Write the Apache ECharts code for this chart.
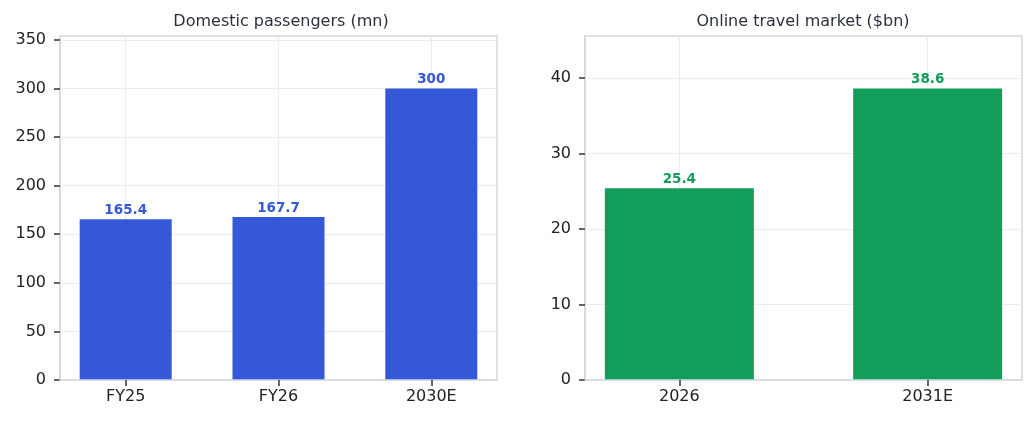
<!DOCTYPE html>
<html>
<head>
<meta charset="utf-8">
<script src="https://cdn.jsdelivr.net/npm/echarts@6/dist/echarts.min.js"></script>
<style>
  html, body { margin: 0; padding: 0; background: #fff; }
  #chart { width: 1035px; height: 423px; }
</style>
</head>
<body>
<div id="chart"></div>
<script>
  // left panel
  var paxCats = ['FY25', 'FY26', '2030E'];
  var paxValues = [165.4, 167.7, 300];
  var paxTicks = [0, 50, 100, 150, 200, 250, 300, 350];
  // right panel
  var mktCats = ['2026', '2031E'];
  var mktValues = [25.4, 38.6];
  var mktTicks = [0, 10, 20, 30, 40];

  var blue = '#3458D6';
  var green = '#129D5A';
  var font = 'DejaVu Sans';
  var frame = '#D3D7E2';
  var plotH = 423 - 36 - 43;

  function idx(arr) { return arr.map(function (v, i) { return i; }); }

  function xAxis(gi, cats, pad) {
    return {
      type: 'value', gridIndex: gi, position: 'bottom', z: 5,
      min: -0.3 - pad, max: cats.length - 0.7 + pad,
      axisLine: { show: true, onZero: false, lineStyle: { color: frame, width: 1.5 } },
      axisTick: { show: true, inside: false, customValues: idx(cats), length: 6, lineStyle: { color: '#333', width: 1.5 } },
      axisLabel: {
        customValues: idx(cats), margin: 9,
        color: '#222', fontFamily: font, fontSize: 16,
        formatter: function (v) { return cats[Math.round(v)]; }
      },
      splitLine: { show: false }
    };
  }

  function yAxis(gi, ticks, max) {
    return {
      type: 'value', gridIndex: gi, min: 0, max: max,
      axisLine: { show: true, onZero: false, lineStyle: { color: frame, width: 1.5 } },
      axisTick: { show: true, customValues: ticks, length: 6, lineStyle: { color: '#333', width: 1.5 } },
      axisLabel: { customValues: ticks, margin: 14, color: '#222', fontFamily: font, fontSize: 16 },
      splitLine: { show: false }
    };
  }

  function gridLines(gi, xs, ys, xMin, xMax, yMax) {
    // light reference lines at category centres and y ticks
    var data = [];
    xs.forEach(function (x) { data.push([{ coord: [x, 0] }, { coord: [x, yMax] }]); });
    ys.forEach(function (y) { data.push([{ coord: [xMin, y] }, { coord: [xMax, y] }]); });
    return {
      type: 'line', xAxisIndex: gi, yAxisIndex: gi, data: [], z: 0, symbol: 'none',
      markLine: {
        silent: true, z: 1, symbol: ['none', 'none'], label: { show: false },
        lineStyle: { color: '#ECEDF3', type: 'solid', width: 1.2 },
        emphasis: { disabled: true },
        data: data
      }
    };
  }

  function xTicks(gi, xs, yMax) {
    // short dark marks under each category (6px below the axis)
    var len = 6 * yMax / plotH;
    return {
      type: 'line', xAxisIndex: gi, yAxisIndex: gi, data: [], z: 6, symbol: 'none', clip: false,
      markLine: {
        silent: true, z: 6, symbol: ['none', 'none'], label: { show: false },
        lineStyle: { color: '#333', type: 'solid', width: 1.5 },
        emphasis: { disabled: true },
        data: xs.map(function (x) { return [{ coord: [x, 0] }, { coord: [x, -len] }]; })
      }
    };
  }

  function bars(gi, vals, color, w) {
    return {
      type: 'bar', xAxisIndex: gi, yAxisIndex: gi, z: 3,
      barWidth: w,
      data: vals.map(function (v, i) { return [i, v]; }),
      itemStyle: { color: color },
      label: {
        show: true, position: 'top', distance: 2,
        color: color, fontFamily: font, fontWeight: 'bold', fontSize: 13.5,
        formatter: function (p) { return p.value[1]; }
      }
    };
  }

  var leftMax = 300 * 1.18, rightMax = 38.6 * 1.18;
  var leftPad = 0.13, rightPad = 0.08;

  var chart = echarts.init(document.getElementById('chart'));
  chart.setOption({
    animation: false,
    title: [
      { text: 'Domestic passengers (mn)', left: 276, top: 9, textAlign: 'center',
        textStyle: { fontFamily: font, fontSize: 16, fontWeight: 'normal', color: '#2B3040' } },
      { text: 'Online travel market ($bn)', left: 798, top: 9, textAlign: 'center',
        textStyle: { fontFamily: font, fontSize: 16, fontWeight: 'normal', color: '#2B3040' } }
    ],
    grid: [
      { left: 60, right: 538, top: 36, bottom: 43, show: true, borderColor: frame, borderWidth: 1.5, backgroundColor: '#fff' },
      { left: 585, right: 13, top: 36, bottom: 43, show: true, borderColor: frame, borderWidth: 1.5, backgroundColor: '#fff' }
    ],
    xAxis: [xAxis(0, paxCats, leftPad), xAxis(1, mktCats, rightPad)],
    yAxis: [yAxis(0, paxTicks, leftMax), yAxis(1, mktTicks, rightMax)],
    series: [
      gridLines(0, idx(paxCats), paxTicks, -0.3 - leftPad, paxCats.length - 0.7 + leftPad, leftMax),
      gridLines(1, idx(mktCats), mktTicks, -0.3 - rightPad, mktCats.length - 0.7 + rightPad, rightMax),
      xTicks(0, idx(paxCats), leftMax),
      xTicks(1, idx(mktCats), rightMax),
      bars(0, paxValues, blue, 92),
      bars(1, mktValues, green, 149)
    ]
  });
</script>
</body>
</html>
